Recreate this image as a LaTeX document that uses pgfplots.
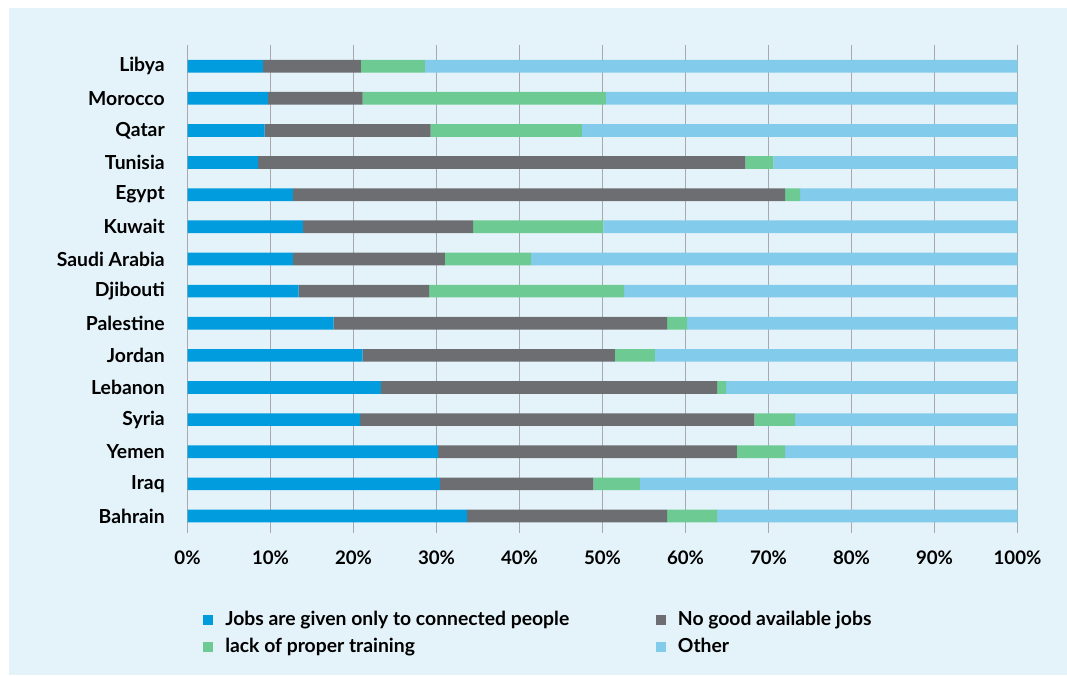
\documentclass[border=0pt]{standalone}
\usepackage{fontspec}
\setmainfont{Lato}
\usepackage{pgfplots}
\usepackage{pgfplotstable}
\pgfplotsset{compat=1.18}
\definecolor{cBlue}{HTML}{009CDE}
\definecolor{cGray}{HTML}{6D6E71}
\definecolor{cGreen}{HTML}{6DCA93}
\definecolor{cLight}{HTML}{82CBEB}
\definecolor{cBg}{HTML}{E4F3FA}
\definecolor{cGrid}{HTML}{A7A9AC}
\pgfplotstableread{
y a b c d
0 33.7 24.1 6.0 36.2
1 30.4 18.5 5.6 45.5
2 30.2 36.0 5.8 28.0
3 20.8 47.5 4.9 26.8
4 23.3 40.5 1.1 35.1
5 21.1 30.4 4.8 43.7
6 17.6 40.2 2.4 39.8
7 13.4 15.7 23.5 47.4
8 12.7 18.3 10.4 58.6
9 13.9 20.5 15.7 49.9
10 12.7 59.3 1.8 26.2
11 8.5 58.7 3.4 29.4
12 9.3 20.0 18.2 52.5
13 9.7 11.4 29.3 49.6
14 9.1 11.8 7.7 71.4
}\datatable
\begin{document}
\begin{tikzpicture}
\fill[white] (0pt,0pt) rectangle (800.25pt,506.25pt);
\fill[cBg] (6.75pt,0pt) rectangle (800.25pt,500.25pt);
\begin{axis}[
  at={(140.625pt,106.5pt)}, anchor=south west,
  scale only axis, width=622.5pt, height=366pt,
  xbar stacked, bar width=9.5pt,
  xmin=0, xmax=100, ymin=-0.53, ymax=14.66,
  axis line style={draw=none},
  major tick length=0pt,
  xmajorgrids, grid style={cGrid, line width=0.9pt},
  xtick={0,10,...,100},
  xticklabel={\pgfmathprintnumber{\tick}\%},
  /pgf/number format/assume math mode=true,
  xticklabel style={font=\bfseries\fontsize{14}{16}\selectfont, inner sep=0pt, anchor=north, yshift=-13.5pt},
  ytick={0,...,14},
  yticklabels={Bahrain,Iraq,Yemen,Syria,Lebanon,Jordan,Palestine,Djibouti,Saudi Arabia,Kuwait,Egypt,Tunisia,Qatar,Morocco,Libya},
  yticklabel style={font=\bfseries\fontsize{14.5}{16}\selectfont, inner sep=0pt, anchor=east, xshift=-16.9pt},
  legend columns=2,
  legend cell align=left,
  legend image code/.code={\fill[#1] (0pt,-3.75pt) rectangle (7.5pt,3.75pt);},
  legend style={at={(axis description cs:0.0187,-0.16)}, anchor=north west, draw=none, fill=none,
    inner sep=0pt, row sep=8pt,
    font=\bfseries\fontsize{14.5}{16}\selectfont,
    nodes={inner sep=0pt},
    /tikz/every odd column/.append style={column sep=9pt},
    /tikz/every even column/.append style={column sep=65pt}},
]
\addplot[fill=cBlue, draw=none] table[x=a, y=y] {\datatable};
\addplot[fill=cGray, draw=none] table[x=b, y=y] {\datatable};
\addplot[fill=cGreen, draw=none] table[x=c, y=y] {\datatable};
\addplot[fill=cLight, draw=none] table[x=d, y=y] {\datatable};
\legend{Jobs are given only to connected people, No good available jobs, lack of proper training, Other}
\end{axis}
\end{tikzpicture}
\end{document}
